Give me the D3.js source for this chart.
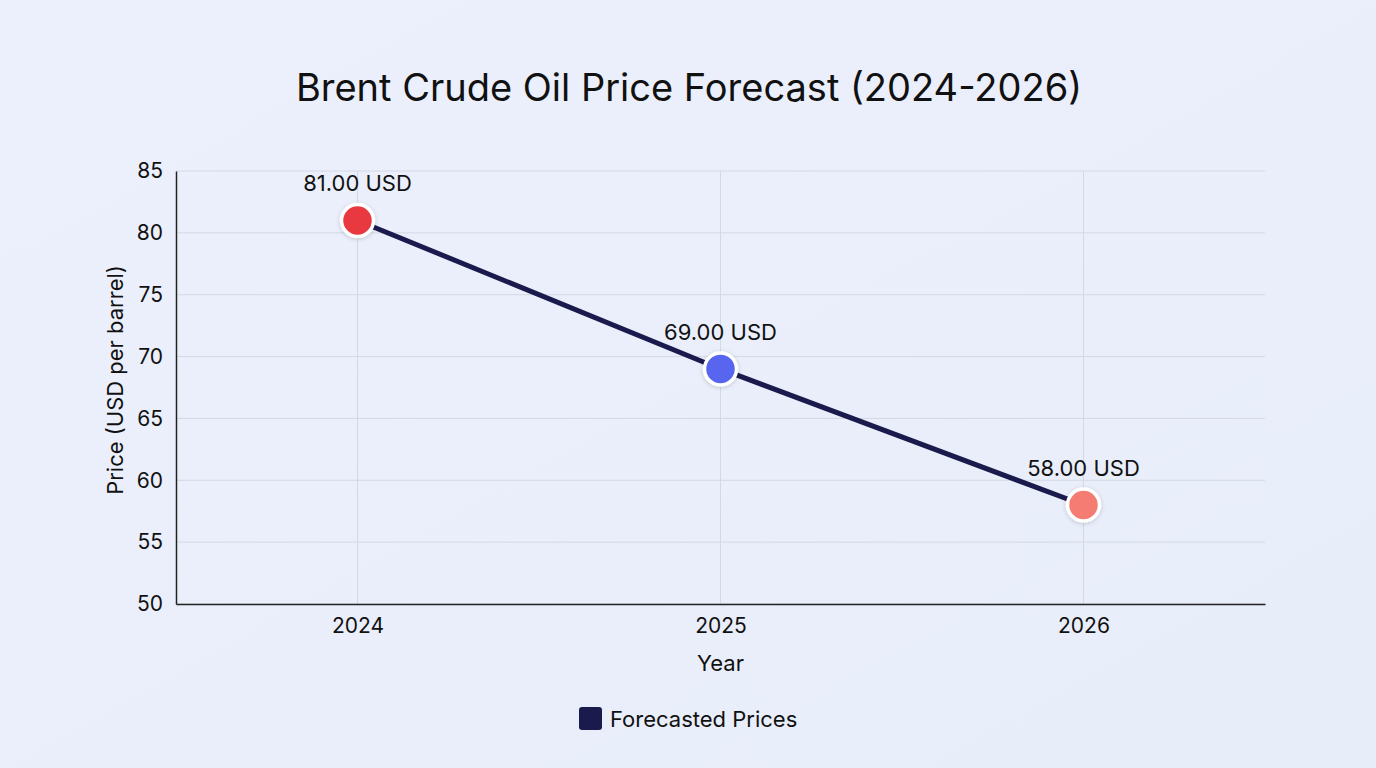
<!DOCTYPE html>
<html>
<head>
<meta charset="utf-8">
<script src="https://cdn.jsdelivr.net/npm/d3@7"></script>
<style>
  html, body { margin: 0; padding: 0; background: #e9eefb; }
  body { font-family: Inter, "Noto Sans", sans-serif; }
</style>
</head>
<body>
<div id="chart"></div>
<script>
// Data
const years = ["2024", "2025", "2026"];
const prices = [81, 69, 58];
const pointColors = ["#e8393f", "#5865ee", "#f47b72"];
const yTicks = [50, 55, 60, 65, 70, 75, 80, 85];
const seriesName = "Forecasted Prices";

const width = 1376;
const height = 768;
const margin = { top: 171, right: 111, bottom: 164, left: 176 };

const svg = d3.select("#chart")
  .append("svg")
  .attr("width", width)
  .attr("height", height);

// background
const defs = svg.append("defs");
const bg = defs.append("linearGradient").attr("id", "bg").attr("x1", 0).attr("y1", 0).attr("x2", 1).attr("y2", 1);
bg.append("stop").attr("offset", "0%").attr("stop-color", "#ecf0fc");
bg.append("stop").attr("offset", "100%").attr("stop-color", "#e8edfa");
svg.append("rect").attr("width", width).attr("height", height).attr("fill", "url(#bg)");

const shadow = defs.append("filter").attr("id", "shadow").attr("x", "-50%").attr("y", "-50%").attr("width", "200%").attr("height", "200%");
shadow.append("feDropShadow").attr("dx", 0).attr("dy", 1).attr("stdDeviation", 2).attr("flood-color", "#000").attr("flood-opacity", 0.18);

const x = d3.scalePoint()
  .domain(years)
  .range([margin.left, width - margin.right])
  .padding(0.5);

const y = d3.scaleLinear()
  .domain([50, 85])
  .range([height - margin.bottom, margin.top]);

// Title
svg.append("text")
  .attr("x", 689)
  .attr("y", 101)
  .attr("text-anchor", "middle")
  .style("font-size", "38px")
  .style("fill", "#111")
  .text("Brent Crude Oil Price Forecast (2024-2026)");

// Gridlines
svg.append("g")
  .selectAll("line.hgrid")
  .data(yTicks)
  .enter()
  .append("line")
  .attr("x1", margin.left)
  .attr("x2", width - margin.right)
  .attr("y1", d => y(d))
  .attr("y2", d => y(d))
  .attr("stroke", "#d3d8e4")
  .attr("stroke-width", 1);

svg.append("g")
  .selectAll("line.vgrid")
  .data(years)
  .enter()
  .append("line")
  .attr("x1", d => x(d))
  .attr("x2", d => x(d))
  .attr("y1", margin.top)
  .attr("y2", height - margin.bottom)
  .attr("stroke", "#d3d8e4")
  .attr("stroke-width", 1);

// Axes
const yAxis = svg.append("g")
  .attr("transform", `translate(${margin.left},0)`)
  .call(d3.axisLeft(y).tickValues(yTicks).tickSize(0).tickPadding(13));
yAxis.select(".domain").attr("stroke", "#222").attr("stroke-width", 1.5);
yAxis.selectAll("text").style("font-size", "21px").style("fill", "#111").style("font-family", "Inter, sans-serif");

const xAxis = svg.append("g")
  .attr("transform", `translate(0,${height - margin.bottom})`)
  .call(d3.axisBottom(x).tickSize(0).tickPadding(14));
xAxis.select(".domain").attr("stroke", "#222").attr("stroke-width", 1.5);
xAxis.selectAll("text").style("font-size", "21px").style("fill", "#111").style("font-family", "Inter, sans-serif");

// Axis titles
svg.append("text")
  .attr("x", (margin.left + width - margin.right) / 2)
  .attr("y", 671)
  .attr("text-anchor", "middle")
  .style("font-size", "22px")
  .style("fill", "#111")
  .text("Year");

svg.append("text")
  .attr("transform", "translate(123,380) rotate(-90)")
  .attr("text-anchor", "middle")
  .style("font-size", "22px")
  .style("fill", "#111")
  .text("Price (USD per barrel)");

// Line
const line = d3.line()
  .x((d, i) => x(years[i]))
  .y(d => y(d));

svg.append("path")
  .datum(prices)
  .attr("d", line)
  .attr("fill", "none")
  .attr("stroke", "#1b1a4d")
  .attr("stroke-width", 5);

// Points
svg.append("g")
  .selectAll("circle")
  .data(prices)
  .enter()
  .append("circle")
  .attr("cx", (d, i) => x(years[i]))
  .attr("cy", d => y(d))
  .attr("r", 16)
  .attr("fill", (d, i) => pointColors[i])
  .attr("stroke", "#fff")
  .attr("stroke-width", 3.5)
  .attr("filter", "url(#shadow)");

// Value labels
svg.append("g")
  .selectAll("text")
  .data(prices)
  .enter()
  .append("text")
  .attr("x", (d, i) => x(years[i]))
  .attr("y", d => y(d) - 29)
  .attr("text-anchor", "middle")
  .style("font-size", "22px")
  .style("fill", "#111")
  .text(d => d3.format(".2f")(d) + " USD");

// Legend
const legend = svg.append("g").attr("transform", "translate(579,707)");
legend.append("rect")
  .attr("width", 23)
  .attr("height", 23)
  .attr("rx", 3)
  .attr("fill", "#1b1a4d");
legend.append("text")
  .attr("x", 31)
  .attr("y", 20)
  .style("font-size", "22px")
  .style("fill", "#111")
  .text(seriesName);
</script>
</body>
</html>
